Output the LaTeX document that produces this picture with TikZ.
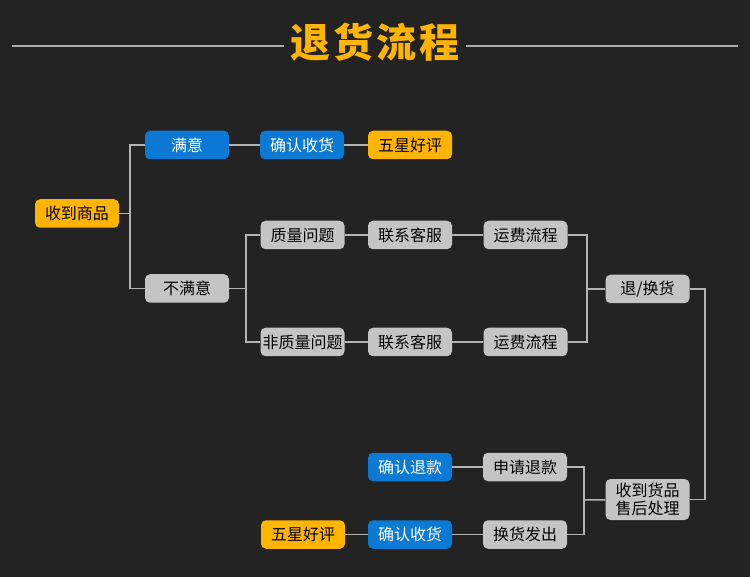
\documentclass[tikz,border=0pt]{standalone}
\usepackage{fontspec}
\newfontfamily\cjk{Noto Sans CJK SC}
\newfontfamily\cjktitle[LetterSpace=8]{Noto Sans CJK SC}
\usepackage{tikz}
\usetikzlibrary{positioning}

\definecolor{bgdark}{RGB}{35,35,35}
\definecolor{linegrey}{RGB}{180,180,180}
\definecolor{boxgrey}{RGB}{196,196,196}
\definecolor{boxblue}{RGB}{12,122,212}
\definecolor{boxorange}{RGB}{255,180,0}

\tikzset{
  box/.style={rounded corners=5pt, minimum width=84pt, minimum height=28.5pt,
    inner sep=0pt, font=\cjk\fontsize{16}{19}\selectfont},
  greybox/.style={box, fill=boxgrey, text=black},
  bluebox/.style={box, fill=boxblue, text=white},
  yellowbox/.style={box, fill=boxorange, text=black},
  link/.style={draw=linegrey, line width=1.5pt},
  rule/.style={draw=linegrey!110, line width=2pt}
}

\begin{document}
\begin{tikzpicture}[x=1pt,y=-1pt]
\fill[bgdark] (0,0) rectangle (750,577);
\useasboundingbox (0,0) rectangle (750,577);

% title
\node (title) [text=boxorange, inner sep=6pt,
  font=\cjktitle\bfseries\fontsize{40}{44}\selectfont] at (375,42) {退货流程};
\coordinate (ruleL) at (12,46);
\coordinate (ruleR) at (738,46);
\draw[rule] (ruleL) -- (ruleL -| title.west);
\draw[rule] (ruleR -| title.east) -- (ruleR);

% first part
\node (receive) [yellowbox] at (77,213.5) {收到商品};
\node (satisfied) [bluebox] at (187,145) {满意};
\node (unhappy) [greybox, node distance=143.5pt, below of=satisfied] {不满意};
\node (confirmTop) [bluebox, node distance=115pt, right of=satisfied] {确认收货};
\node (praiseTop) [yellowbox, node distance=108pt, right of=confirmTop] {五星好评};

\node (quality) [greybox] at (302.5,235) {质量问题};
\node (serviceA) [greybox, node distance=107.5pt, right of=quality] {联系客服};
\node (freightA) [greybox, node distance=115.5pt, right of=serviceA] {运费流程};
\node (nonQuality) [greybox, node distance=107pt, below of=quality] {非质量问题};
\node (serviceB) [greybox, node distance=107.5pt, right of=nonQuality] {联系客服};
\node (freightB) [greybox, node distance=115.5pt, right of=serviceB] {运费流程};

\node (returnSwap) [greybox] at (647.5,289) {退/换货};
\node (afterSale) [greybox, minimum height=41pt, align=center,
  font=\cjk\fontsize{16}{18}\selectfont] at (647.5,499.5) {收到货品\\售后处理};

% second part
\node (applyRefund) [greybox] at (525,467) {申请退款};
\node (swapShip) [greybox, node distance=67.5pt, below of=applyRefund] {换货发出};
\node (confirmRefund) [bluebox, node distance=115pt, left of=applyRefund] {确认退款};
\node (confirmBottom) [bluebox, node distance=115pt, left of=swapShip] {确认收货};
\node (praiseBottom) [yellowbox, node distance=107pt, left of=confirmBottom] {五星好评};

% branch points
\coordinate (forkA) at (130,213.5);
\coordinate (forkB) at (246,288.5);
\coordinate (mergeA) at (587,289);
\coordinate (turnR) at (705,400);
\coordinate (forkC) at (584,500);

\draw[link] (receive) -- (forkA);
\draw[link] (forkA) |- (satisfied);
\draw[link] (forkA) |- (unhappy);
\draw[link] (satisfied) -- (confirmTop) -- (praiseTop);
\draw[link] (unhappy) -- (forkB);
\draw[link] (forkB) |- (quality);
\draw[link] (forkB) |- (nonQuality);
\draw[link] (quality) -- (serviceA) -- (freightA);
\draw[link] (nonQuality) -- (serviceB) -- (freightB);
\draw[link] (freightA) -| (mergeA);
\draw[link] (freightB) -| (mergeA);
\draw[link] (mergeA) -- (returnSwap);
\draw[link] (returnSwap) -| (turnR);
\draw[link] (turnR) |- (afterSale);
\draw[link] (afterSale) -- (forkC);
\draw[link] (forkC) |- (applyRefund);
\draw[link] (forkC) |- (swapShip);
\draw[link] (applyRefund) -- (confirmRefund);
\draw[link] (swapShip) -- (confirmBottom) -- (praiseBottom);
\end{tikzpicture}
\end{document}
